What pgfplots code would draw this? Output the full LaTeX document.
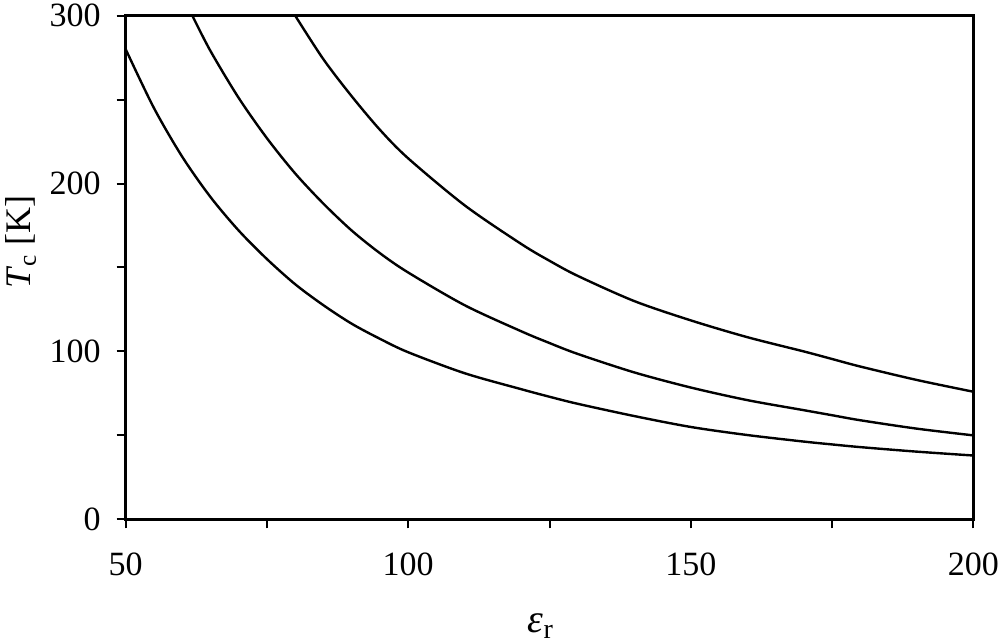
\documentclass[border=0pt]{standalone}
\usepackage{fontspec}
\setmainfont{Liberation Serif}
\usepackage{pgfplots}
\pgfplotsset{compat=1.18}

\begin{document}
\begin{tikzpicture}
\begin{axis}[
    at={(0,0)}, anchor=south west,
    scale only axis,
    width=423.8pt, height=251.8pt,
    xmin=50, xmax=200, ymin=0, ymax=300,
    xtick={50,100,150,200},
    minor xtick={75,125,175},
    ytick={0,100,200,300},
    minor ytick={50,150,250},
    tick pos=left,
    tick align=outside,
    major tick length=4.5pt, minor tick length=4.5pt,
    every tick/.style={black, line width=1pt},
    axis line style={line width=1.35pt},
    /pgf/number format/assume math mode=true,
    ticklabel style={font=\fontsize{17}{20}\selectfont},
    xticklabel style={yshift=-9pt},
    yticklabel style={xshift=-4.5pt},
    xlabel={\fontsize{20}{22}\selectfont\itshape ε\textsubscript{\upshape r}},
    ylabel={\fontsize{18}{20}\selectfont\textit{T}\textsubscript{c} [K]},
    xlabel style={at={(axis description cs:0.49,-0.212)}, anchor=center},
    ylabel style={at={(axis description cs:-0.1235,0.55)}, anchor=center, rotate=0},
]
% lower curve
\addplot[black, line width=1.2pt, smooth] coordinates {(50,280) (55,245) (60,216) (65,192) (70,172) (75,155) (80,140)
  (85,127.5) (90,116.5) (95,107.5) (100,99.5) (110,87) (120,77.5) (125,73) (130,68.8)
  (140,61.5) (150,55) (160,50.2) (170,46.3) (175,44.6) (180,43) (190,40.3) (200,38)};
% middle curve
\addplot[black, line width=1.2pt, smooth] coordinates {(61.8,300) (65,279) (70,251) (75,227) (80,206) (85,188) (90,172)
  (95,158.5) (100,147) (110,127.5) (120,112) (125,105) (130,98.5) (140,87.5) (150,78.5)
  (160,71) (170,65) (175,62) (180,59) (190,54) (200,50)};
% upper curve
\addplot[black, line width=1.2pt, smooth] coordinates {(80,300) (85,274) (90,252) (95,232) (100,215) (110,187) (120,164)
  (125,154) (130,145) (140,130) (150,118.5) (160,108.5) (170,100) (175,95.5) (180,91)
  (190,83) (200,76)};
\end{axis}
\pgfresetboundingbox
\path[use as bounding box] (-62.85pt,-61.35pt) rectangle (438.15pt,259.65pt);
\end{tikzpicture}
\end{document}
